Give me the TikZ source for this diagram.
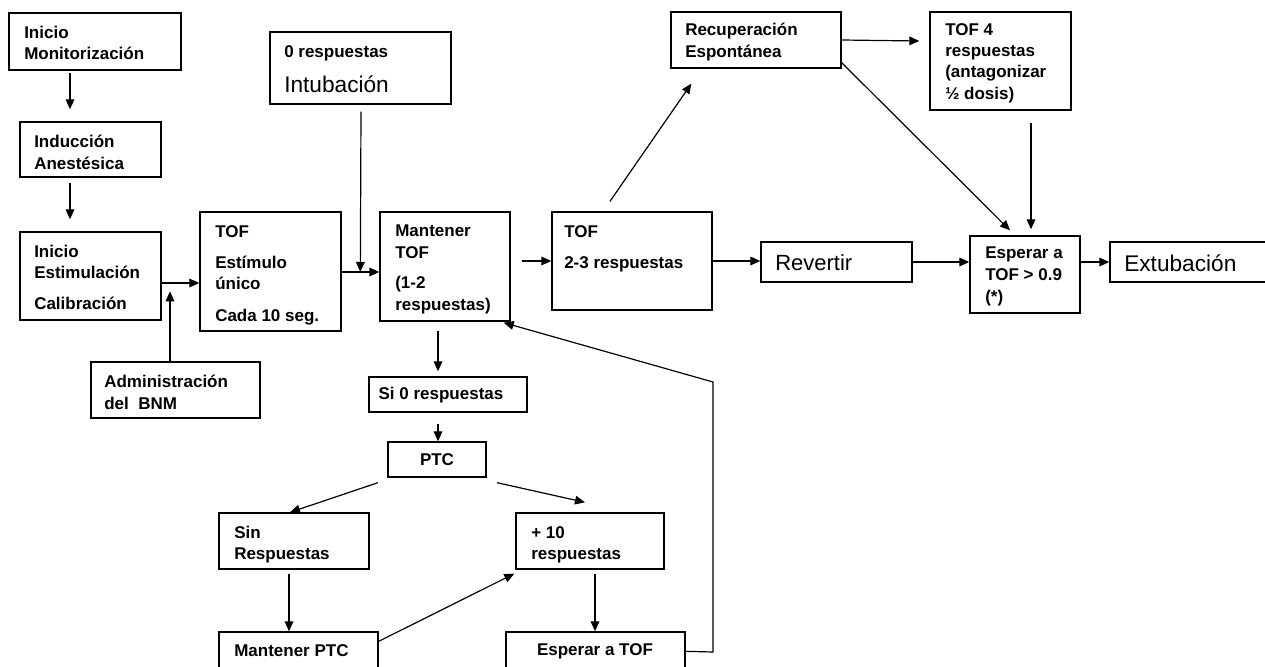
\documentclass[tikz,border=0pt]{standalone}
\usepackage{fontspec}
\setmainfont{Liberation Sans}
\usetikzlibrary{arrows.meta,fit,calc}
\begin{document}
\begin{tikzpicture}[x=0.75pt,y=-0.75pt,
  box/.style={draw, line width=1pt, inner sep=0pt},
  txt/.style={anchor=north west, inner sep=0pt, align=left, font=\bfseries\fontsize{12.75}{16}\selectfont},
  ctxt/.style={anchor=center, inner sep=0pt, font=\bfseries\fontsize{12.75}{16}\selectfont},
  big/.style={anchor=west, inner sep=0pt, font=\fontsize{17}{20}\selectfont},
  arr/.style={line width=0.9pt, -{Triangle[length=7.5pt,width=6.5pt]}},
  ln/.style={line width=0.9pt}]
\useasboundingbox (0,0) rectangle (1265,667);
\clip (0,0) rectangle (1265,667);
\fill[white] (0,0) rectangle (1265,667);
% boxes
\node[box, fit={(9,13) (181,70)}] (mon) {};
\node[box, fit={(20,122) (161,177)}] (ind) {};
\node[box, fit={(20,232) (161,320)}] (est) {};
\node[box, fit={(91,362) (260,418)}] (adm) {};
\node[box, fit={(200,212) (341,331)}] (tof1) {};
\node[box, fit={(270,32) (451,104)}] (int) {};
\node[box, fit={(380,212) (510,321)}] (man) {};
\node[box, fit={(552,212) (712,310)}] (tof2) {};
\node[box, fit={(671,12) (841,68)}] (rec) {};
\node[box, fit={(930,12) (1071,110)}] (tof4) {};
\node[box, fit={(761,242) (912,282)}] (rev) {};
\node[box, fit={(970,236) (1080,313)}] (esp) {};
\node[box, fit={(1110,242) (1280,282)}] (ext) {};
\node[box, fit={(369,377) (527,412)}] (si0) {};
\node[box, fit={(388,442) (486,477)}] (ptc) {};
\node[box, fit={(219,513) (369,569)}] (sin) {};
\node[box, fit={(516,513) (664,569)}] (p10) {};
\node[box, fit={(219,632) (378,690)}] (mptc) {};
\node[box, fit={(506,632) (685,690)}] (etof) {};
% texts
\node[txt] (mon-t) at (24,26) {Inicio\\Monitorización};
\node[txt] (ind-t) at (34,135) {Inducción\\Anestésica};
\node[txt] (est-t) at (34,245) {Inicio\\Estimulación\\[7pt]Calibración};
\node[txt] (adm-t) at (104,375) {Administración\\del\ \ BNM};
\node[txt] (tof1-t) at (215,225) {TOF\\[7.5pt]Estímulo\\único\\[7.5pt]Cada 10 seg.};
\node[txt] (int-t) at (284,45) {0 respuestas};
\node[big] (int-t2) at (284,84) {Intubación};
\node[txt] (man-t) at (395,225) {Mantener\\TOF\\[7pt](1-2\\respuestas)};
\node[txt] (tof2-t) at (564,225) {TOF\\[7.5pt]2-3 respuestas};
\node[txt] (rec-t) at (685,23) {Recuperación\\Espontánea};
\node[txt] (tof4-t) at (945,23) {TOF 4\\respuestas\\(antagonizar\\½ dosis)};
\node[big, font=\fontsize{16.5}{20}\selectfont] (rev-t) at (775,263) {Revertir};
\node[txt] (esp-t) at (985,247) {Esperar a\\TOF > 0.9\\[1pt](*)};
\node[big] (ext-t) at (1124,263) {Extubación};
\node[ctxt] (si0-t) at (441,395) {Si 0 respuestas};
\node[ctxt] (ptc-t) at (437,460) {PTC};
\node[txt] (sin-t) at (234,526) {Sin\\Respuestas};
\node[txt] (p10-t) at (531,526) {+ 10\\respuestas};
\node[txt, anchor=west] (mptc-t) at (234,651) {Mantener PTC};
\node[ctxt] (etof-t) at (595,651) {Esperar a TOF};
% connectors
\draw[arr] ($(mon.south)+(-25,2)$) -- ($(ind.north)+(-20.5,-12)$);
\draw[arr] ($(ind.south)+(-20.5,5)$) -- ($(est.north)+(-20.5,-12)$);
\draw[arr] ($(est.east)+(0,7)$) -- ($(tof1.west)+(0,11.5)$);
\draw[arr] (adm.north -| 170,0) -- ($(adm.north)+(-5.5,-70)$);
\draw[arr] ($(int.south)+(0.5,7)$) -- ($(man.west)+(-19,5.5)$);
\draw[arr] ($(tof1.east)+(0,0.5)$) -- ($(man.west)+(0,5.5)$);
\draw[arr] ($(man.east)+(11,-5.5)$) -- (tof2.west);
\draw[arr] ($(tof2.north)+(-22,-10)$) -- ($(rec.south west)+(21,15)$);
\draw[arr] (tof2.east) -- (tof2.east -| rev.west);
\draw[arr] (rec.east) -- ($(tof4.west)+(-10,-20)$);
\draw[arr] ($(rec.south east)+(0,-6)$) -- ($(esp.north)+(-15,-5)$);
\draw[arr] ($(tof4.south)+(30.5,12)$) -- ($(esp.north)+(6,-6)$);
\draw[arr] (rev.east) -- (rev.east -| esp.west);
\draw[arr] ($(esp.east)+(0,-12.5)$) -- (ext.west);
\draw[arr] ($(man.south)+(-7,9)$) -- ($(si0.north)+(-10,-5)$);
\draw[arr] ($(si0.south)+(-10,11)$) -- ($(ptc.north)+(1,0)$);
\draw[arr] ($(ptc.south)+(-59,5)$) -- ($(sin.north)+(-4,0)$);
\draw[arr] ($(ptc.south)+(60,5)$) -- ($(p10.north)+(-5,-10)$);
\draw[arr] ($(sin.south)+(-5,4)$) -- ($(mptc.north)+(-9.5,0)$);
\draw[arr] ($(mptc.north east)+(0,10)$) -- ($(p10.south west)+(-1,4)$);
\draw[arr] ($(p10.south)+(5,4)$) -- ($(etof.north)+(-0.5,0)$);
\coordinate (c1) at (713,652);
\coordinate (c2) at (713,382);
\draw[arr] ($(etof.north east)+(0,20)$) -- (c1) -- (c2) -- ($(man.south east)+(-7,1)$);
\end{tikzpicture}
\end{document}
